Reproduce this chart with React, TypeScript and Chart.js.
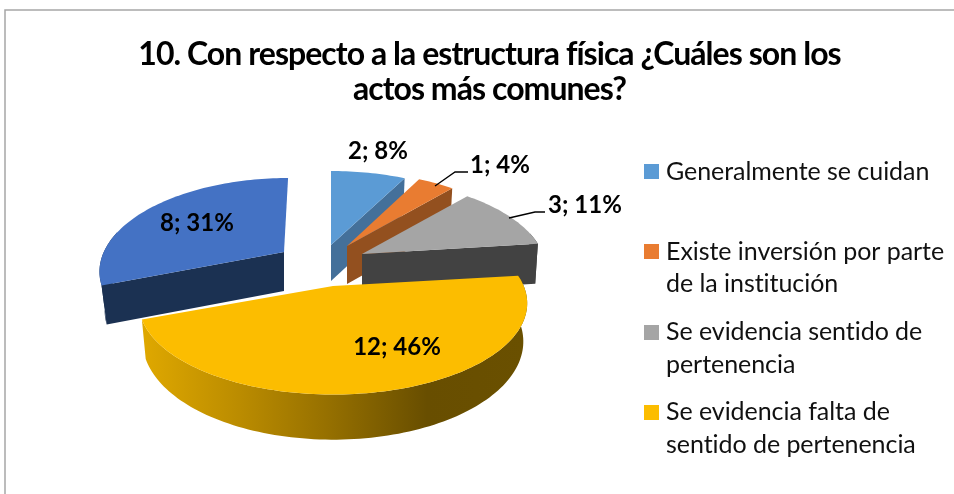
import React, { useEffect, useRef } from "react";
import { Chart, registerables } from "chart.js";

Chart.register(...registerables);

const titleLines = [
  "10. Con respecto a la estructura física ¿Cuáles son los",
  "actos más comunes?",
];
const categories = [
  "Generalmente se cuidan",
  "Existe inversión por parte de la institución",
  "Se evidencia sentido de pertenencia",
  "Se evidencia falta de sentido de pertenencia",
  "",
];
const counts = [2, 1, 3, 12, 8];
const percents = [8, 4, 11, 46, 31];
const legendLines = [
  ["Generalmente se cuidan"],
  ["Existe inversión por parte", "de la institución"],
  ["Se evidencia sentido de", "pertenencia"],
  ["Se evidencia falta de", "sentido de pertenencia"],
];

const topColors = ["#5b9bd5", "#e97c31", "#a5a5a5", "#fcbd00", "#4472c4"];
const wallColors = ["#44709a", "#93501f", "#424242", "", "#1b3152"];
const yellowWallStops: [number, string][] = [
  [0, "#dfa800"],
  [0.25, "#bb8c00"],
  [0.48, "#967000"],
  [0.74, "#684e00"],
  [1, "#6a5000"],
];

// Screen frame of each slice: tip of the wedge, width factor, lean, side height
// and which straight edge shows a wall.
const sliceFrames = [
  { x: 331, y: 245, sx: 0.97, skew: 0, depth: 36, lowX: 0.98, lowY: 1, edge: "end" },
  { x: 347, y: 246, sx: 0.95, skew: 0, depth: 38, lowX: 0.98, lowY: 1, edge: "end" },
  { x: 362, y: 254, sx: 0.95, skew: 0, depth: 40, lowX: 0.985, lowY: 1, edge: "end" },
  { x: 333, y: 286, sx: 1, skew: 0, depth: 37, lowX: 0.98, lowY: 1.075, edge: "none" },
  { x: 284, y: 252, sx: 0.945, skew: -0.055, depth: 39, lowX: 0.972, lowY: 1, edge: "start" },
];
const PERSPECTIVE = 0.189;
const FOCAL_X = 190.7;
const FOCAL_Y = 88;
const FRONT_LIMIT = 0.25;

const labelAnchors = [
  { x: 378, y: 151 },
  { x: 500, y: 165 },
  { x: 585, y: 205 },
  { x: 397, y: 347 },
  { x: 197, y: 223 },
];
const leaderLines: Record<number, [number, number][]> = {
  1: [[435, 186], [455, 172], [468, 172]],
  2: [[509, 218], [535, 212], [545, 212]],
};
const legendRows = [
  { swatchY: 164, lines: [172] },
  { swatchY: 244, lines: [252, 284] },
  { swatchY: 325, lines: [332, 365] },
  { swatchY: 405, lines: [412, 445] },
];

type Pt = { x: number; y: number; v?: number };

function fillPoly(ctx: CanvasRenderingContext2D, pts: Pt[]) {
  ctx.beginPath();
  pts.forEach((p, k) => (k ? ctx.lineTo(p.x, p.y) : ctx.moveTo(p.x, p.y)));
  ctx.closePath();
  ctx.fill();
}

const pie3d = {
  id: "pie3d",
  beforeDraw(chart: any) {
    const ctx = chart.ctx;
    ctx.save();
    ctx.strokeStyle = "#a6a6a6";
    ctx.lineWidth = 1.5;
    ctx.beginPath();
    ctx.moveTo(5, 494);
    ctx.lineTo(5, 10);
    ctx.lineTo(954, 10);
    ctx.stroke();
    ctx.restore();
    ctx.letterSpacing = "-0.95px";
  },
  beforeDatasetsDraw(chart: any) {
    chart.ctx.letterSpacing = "0px";
  },
  beforeDatasetDraw(chart: any, args: any) {
    const ctx: CanvasRenderingContext2D = chart.ctx;
    const arcs = chart.getDatasetMeta(args.index).data;
    arcs.forEach((arc: any, i: number) => {
      const f = sliceFrames[i];
      const project = (u: number, v: number): Pt => {
        const d = 1 + PERSPECTIVE * v;
        const py = (-FOCAL_Y * v) / d;
        return { x: (f.sx * FOCAL_X * u) / d + f.skew * py, y: py, v };
      };
      const a0 = arc.startAngle + Math.PI / 2;
      const a1 = arc.endAngle + Math.PI / 2;
      const steps = Math.max(8, Math.ceil((a1 - a0) * 40));
      const ring: Pt[] = [];
      for (let s = 0; s <= steps; s++) {
        const t = a0 + ((a1 - a0) * s) / steps;
        ring.push(project(Math.sin(t), Math.cos(t)));
      }
      const toTop = (p: Pt) => ({ x: f.x + p.x, y: f.y + p.y });
      const toLow = (p: Pt) => ({
        x: f.x + p.x * f.lowX,
        y: f.y + p.y * f.lowY + f.depth,
      });
      const tip = { x: 0, y: 0 };
      const front = ring.filter((p) => (p.v as number) < FRONT_LIMIT);

      let wall: string | CanvasGradient = wallColors[i];
      if (!wall) {
        const g = ctx.createLinearGradient(143, 0, 527, 0);
        yellowWallStops.forEach(([o, c]) => g.addColorStop(o, c));
        wall = g;
      }
      ctx.save();
      ctx.fillStyle = wall;
      if (front.length > 1) {
        fillPoly(ctx, [...front.map(toTop), ...front.map(toLow).reverse()]);
      }
      if (f.edge !== "none") {
        const rim = f.edge === "end" ? ring[ring.length - 1] : ring[0];
        fillPoly(ctx, [toTop(tip), toTop(rim), toLow(rim), toLow(tip)]);
      }
      ctx.fillStyle = arc.options.backgroundColor;
      fillPoly(ctx, [toTop(tip), ...ring.map(toTop)]);
      ctx.restore();
    });
    return false;
  },
  afterDatasetsDraw(chart: any) {
    const ctx: CanvasRenderingContext2D = chart.ctx;
    ctx.save();
    ctx.strokeStyle = "#000000";
    ctx.lineWidth = 1.3;
    Object.values(leaderLines).forEach((pts) => {
      ctx.beginPath();
      pts.forEach(([x, y], k) => (k ? ctx.lineTo(x, y) : ctx.moveTo(x, y)));
      ctx.stroke();
    });
    ctx.fillStyle = "#000000";
    ctx.textAlign = "center";
    ctx.textBaseline = "middle";
    ctx.font = "bold 24px Lato";
    counts.forEach((c, i) => {
      ctx.fillText(`${c}; ${percents[i]}%`, labelAnchors[i].x, labelAnchors[i].y);
    });
    ctx.textAlign = "left";
    ctx.font = "25px Lato";
    ctx.letterSpacing = "-0.05px";
    ctx.fillStyle = "#111111";
    legendRows.forEach((row, i) => {
      ctx.save();
      ctx.fillStyle = topColors[i];
      ctx.fillRect(644, row.swatchY, 15, 15);
      ctx.restore();
      row.lines.forEach((y, k) => {
        ctx.fillText(legendLines[i][k], 666, y);
      });
    });
    ctx.letterSpacing = "0px";
    ctx.restore();
  },
};

export default function App() {
  const ref = useRef<HTMLCanvasElement>(null);
  useEffect(() => {
    document.body.style.margin = "0";
    const chart = new Chart(ref.current!, {
      type: "pie",
      data: {
        labels: categories,
        datasets: [{ data: counts, backgroundColor: topColors, borderWidth: 0 }],
      },
      options: {
        responsive: false,
        animation: false,
        layout: { padding: { left: 25 } },
        plugins: {
          legend: { display: false },
          tooltip: { enabled: false },
          title: {
            display: true,
            text: titleLines,
            color: "#000000",
            padding: { top: 37, bottom: 10 },
            font: { family: "Lato", weight: "bold", size: 32, lineHeight: 35 / 32 },
          },
        },
      },
      plugins: [pie3d],
    } as any);
    return () => chart.destroy();
  }, []);
  return <canvas ref={ref} width={954} height={494} style={{ display: "block" }} />;
}
